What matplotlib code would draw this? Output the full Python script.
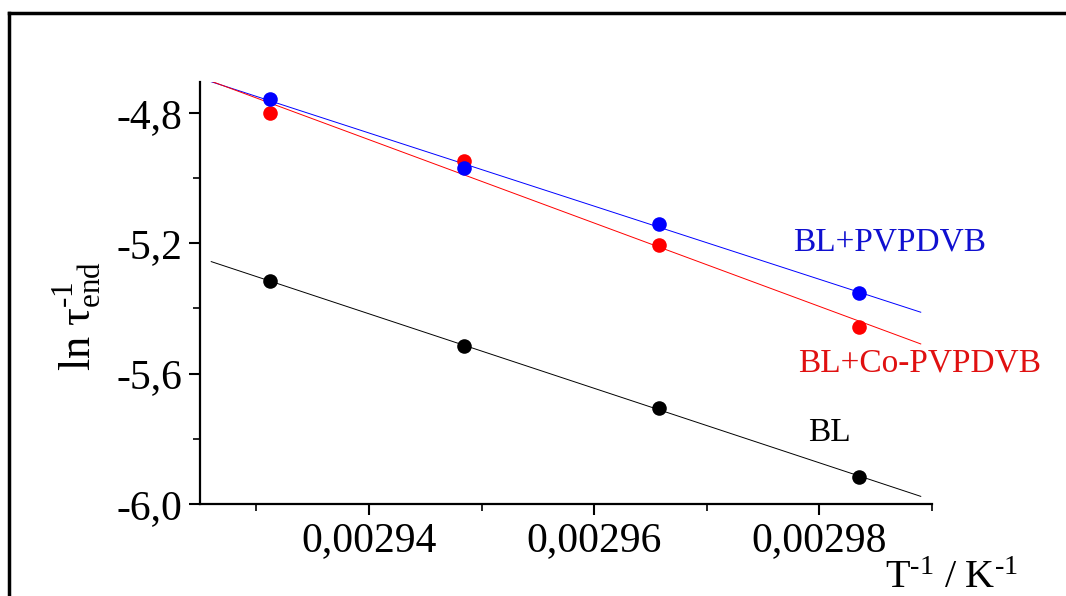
import matplotlib.pyplot as plt
import numpy as np
from matplotlib.lines import Line2D

plt.rcParams["font.family"] = "Liberation Serif"
plt.rcParams["mathtext.fontset"] = "custom"
plt.rcParams["mathtext.rm"] = "Liberation Serif"
plt.rcParams["mathtext.it"] = "Liberation Serif:italic"

# inverse temperature, K^-1
inv_T = [0.0029312, 0.0029484, 0.0029658, 0.0029835]

# ln(1/tau_end)
bl = [-5.316, -5.515, -5.705, -5.917]
bl_pvpdvb = [-4.757, -4.969, -5.141, -5.352]
bl_co_pvpdvb = [-4.800, -4.947, -5.205, -5.457]

fit_range = [0.002926, 0.002989]

x_ticks = [0.00294, 0.00296, 0.00298]
x_tick_labels = ["0,00294", "0,00296", "0,00298"]
y_ticks = [-6.0, -5.6, -5.2, -4.8]
y_tick_labels = ["-6,0", "-5,6", "-5,2", "-4,8"]

series = [
    (bl, "black", "BL"),
    (bl_pvpdvb, "#0000ff", "BL+PVPDVB"),
    (bl_co_pvpdvb, "#ff0000", "BL+Co-PVPDVB"),
]

fig = plt.figure(figsize=(10.66, 5.96), dpi=100)
ax = fig.add_axes([0.1876, 0.1544, 0.6867, 0.708])

xf = np.array(fit_range)
for ys, color, _ in series:
    k, b = np.polyfit(inv_T, ys, 1)
    ax.plot(xf, k * xf + b, color=color, lw=0.7, zorder=2)
for ys, color, _ in [series[0], series[2], series[1]]:
    ax.plot(inv_T, ys, "o", color=color, ms=10.5, mec="none", zorder=3)

ax.text(0.0029862, -5.196, "BL+PVPDVB", color="#1010d0", fontsize=24, ha="center", va="center")
ax.text(0.0029889, -5.567, "BL+Co-PVPDVB", color="#e01010", fontsize=24, ha="center", va="center")
ax.text(0.0029809, -5.782, "BL", color="black", fontsize=24, ha="center", va="center")

ax.set_xlim(0.002925, 0.00299)
ax.set_ylim(-6.0, -4.705)
ax.set_xticks(x_ticks, x_tick_labels)
ax.set_yticks(y_ticks, y_tick_labels)
ax.set_xticks([0.00293, 0.00295, 0.00297, 0.00299], minor=True)
ax.set_yticks([-5.8, -5.4, -5.0], minor=True)
ax.tick_params(which="major", direction="out", length=8, width=1.5, labelsize=30, pad=5)
ax.tick_params(which="minor", direction="out", length=5, width=1.2)
for side in ["top", "right"]:
    ax.spines[side].set_visible(False)
for side in ["left", "bottom"]:
    ax.spines[side].set_linewidth(1.6)

fig.text(0.072, 0.47, r"$\mathrm{ln\ τ^{\text{-1}}_{end}}$", rotation=90,
         fontsize=32, ha="center", va="center")
fig.text(0.8927, 0.03, r"$\mathrm{T^{\text{-1}}\ /\ K^{\text{-1}}}$",
         fontsize=29, ha="center", va="center")

# frame around the figure
fig.add_artist(Line2D([0.0085, 0.0085], [0.0, 0.978], color="black", lw=2.5,
                      transform=fig.transFigure))
fig.add_artist(Line2D([0.0085, 1.0], [0.978, 0.978], color="black", lw=2.5,
                      transform=fig.transFigure))

fig.savefig("out.png", dpi=100)
